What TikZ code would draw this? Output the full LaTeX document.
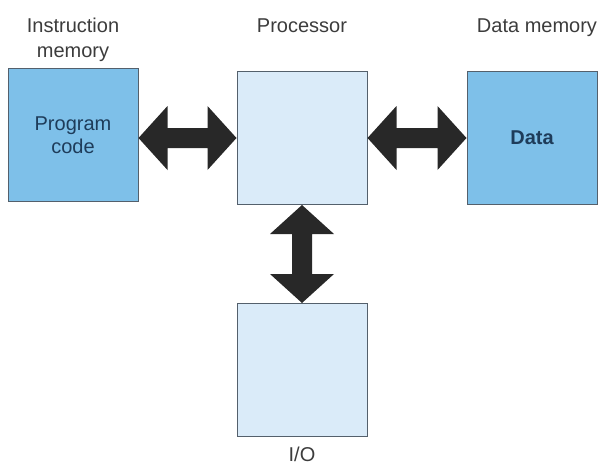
\documentclass[tikz,border=0pt]{standalone}
\usepackage{fontspec}
\setmainfont{Liberation Sans}
\usetikzlibrary{calc}

\definecolor{memblue}{RGB}{126,192,233}
\definecolor{unitblue}{RGB}{218,235,249}
\definecolor{boxedge}{RGB}{84,96,108}
\definecolor{inktext}{RGB}{30,60,90}
\definecolor{captext}{RGB}{60,60,60}
\definecolor{busfill}{RGB}{40,40,40}

% Double-headed bus arrow between two points (heads 29 long, 64 wide, shaft 20 wide)
\newcommand\busarrow[2]{%
  \fill[busfill] (#1)
    -- ($(#1)!29pt!(#2)!32pt!90:(#2)$)
    -- ($(#1)!29pt!(#2)!10pt!90:(#2)$)
    -- ($(#2)!29pt!(#1)!10pt!-90:(#1)$)
    -- ($(#2)!29pt!(#1)!32pt!-90:(#1)$)
    -- (#2)
    -- ($(#2)!29pt!(#1)!32pt!90:(#1)$)
    -- ($(#2)!29pt!(#1)!10pt!90:(#1)$)
    -- ($(#1)!29pt!(#2)!10pt!-90:(#2)$)
    -- ($(#1)!29pt!(#2)!32pt!-90:(#2)$)
    -- cycle;}

\begin{document}
\begin{tikzpicture}[x=1pt,y=-1pt,
  unit/.style={draw=boxedge, line width=1pt, minimum width=130pt, minimum height=133pt, inner sep=0pt},
  memunit/.style={unit, fill=memblue},
  cpuunit/.style={unit, fill=unitblue},
  caption/.style={text=captext, font=\fontsize{20}{25}\selectfont, inner sep=0pt, align=center},
  inside/.style={text=inktext, font=\fontsize{20}{23}\selectfont, align=center}]
\useasboundingbox (0,0) rectangle (600,466);

% memories, processor and I/O block
\node[memunit] (im) at (73,135) {};
\node[cpuunit] (pr) at (302,138) {};
\node[memunit] (dm) at (532,138) {};
\node[cpuunit] (io) at (302,370) {};

\node[inside] (pc) at (im.center) {Program\\code};
\node[inside, font=\fontsize{20}{23}\selectfont\bfseries] (dt) at (dm.center) {Data};

% captions
\node[caption, anchor=north] (imcap) at (73,18) {Instruction\\memory};
\node[caption, anchor=base] (prcap) at (302,32) {Processor};
\node[caption, anchor=base] (dmcap) at (537,32) {Data memory};
\node[caption, anchor=base] (iocap) at (302,461) {I/O};

% buses
\busarrow{im.east |- pr.west}{pr.west}
\busarrow{pr.east}{dm.west |- pr.east}
\busarrow{pr.south}{io.north}
\end{tikzpicture}
\end{document}
